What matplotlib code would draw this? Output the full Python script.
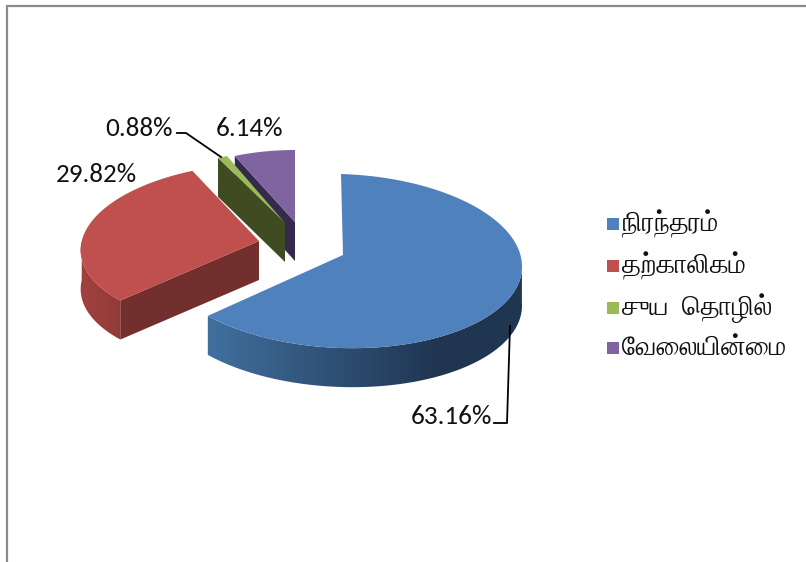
import numpy as np
import matplotlib
matplotlib.use('Agg')
import matplotlib.pyplot as plt
from matplotlib.patches import Polygon, Rectangle
from matplotlib.colors import LinearSegmentedColormap

labels = ['நிரந்தரம்', 'தற்காலிகம்', 'சுய  தொழில்', 'வேலையின்மை']
values = [63.16, 29.82, 0.88, 6.14]
value_labels = ['63.16%', '29.82%', '0.88%', '6.14%']
colors = ['#4F81BD', '#C0504D', '#9BBB59', '#8064A2']
face_colors = ['#1F3550', '#722F2D', '#404B22', '#352A4C']

# where each exploded slice sits, in image pixels: apex x/y, arc centre x/y, rx, ry, skew, tilt
geom = {
    0: (343, 255, 341, 261, 181, 87, 0, 5.5),
    1: (259, 241, 258, 245, 177, 82, 11, 0),
    2: (285, 223, 294, 232, 178, 82, 0, 0),
    3: (295, 222, 295, 231, 160, 81, 0, 0),
}
depth = 39
# side wall gradient per slice: (x start, x end, colour start, colour end)
wall = {
    0: (206, 440, '#41709F', '#1F3550'),
    1: (82, 200, '#A0413E', '#722F2D'),
}

# matplotlib does no text shaping, so Tamil vowel signs that sit left of their
# consonant have to come first in the string it is given
SPLIT = {'\u0bca': '\u0bc6\u0bbe', '\u0bcb': '\u0bc7\u0bbe', '\u0bcc': '\u0bc6\u0bd7'}
LEFT_SIGNS = '\u0bc6\u0bc7\u0bc8'


def visual_order(s):
    for k, v in SPLIT.items():
        s = s.replace(k, v)
    out = list(s)
    for n in range(1, len(out)):
        if out[n] in LEFT_SIGNS:
            out[n - 1], out[n] = out[n], out[n - 1]
    return ''.join(out)


fig = plt.figure(figsize=(8.06, 5.62), dpi=100)
ax = fig.add_axes([0, 0, 1, 1])
ax.set_axis_off()

# frame of the original chart area
ax.plot([6.5, 6.5, 806], [562, 5.5, 5.5], color='#8C8C8C', lw=1.6, solid_joinstyle='miter')

angles = np.cumsum([0] + values) / sum(values) * 2 * np.pi


def arc(i, t):
    ax0, ay0, cx, cy, rx, ry, k, m = geom[i]
    return np.c_[cx + rx * np.sin(t) + k * np.cos(t), cy - ry * np.cos(t) + m * np.sin(t)]


# back slices first so the near ones overlap them
for i in [3, 2, 1, 0]:
    ax0, ay0 = geom[i][:2]
    t0, t1 = angles[i], angles[i + 1]
    t = np.linspace(t0, t1, 200)
    pts = arc(i, t)

    # curved outer wall, lower half only
    tw = t[np.cos(t) < 0.05]
    if len(tw) > 1 and i in wall:
        top = arc(i, tw)
        poly = np.vstack([top, top[::-1] + [0, depth]])
        patch = Polygon(poly, closed=True, fc='none', ec='none')
        ax.add_patch(patch)
        x0, x1, c0, c1 = wall[i]
        cmap = LinearSegmentedColormap.from_list('w', [c0, c1])
        grad = np.clip((np.arange(806) - x0) / (x1 - x0), 0, 1)[None, :]
        im = ax.imshow(grad, cmap=cmap, extent=[0, 806, 562, 0], aspect='auto', vmin=0, vmax=1)
        im.set_clip_path(patch)

    # flat cut face, seen only when it turns towards the viewer
    if np.sin(t0) < -1e-6:
        p = arc(i, np.array([t0]))[0]
        ax.add_patch(Polygon([[ax0, ay0], p, p + [0, depth], [ax0, ay0 + depth]], closed=True,
                             fc=face_colors[i], ec='none', zorder=2))

    ax.add_patch(Polygon(np.vstack([[ax0, ay0], pts]), closed=True, fc=colors[i], ec='none', zorder=3))

label_font = ['Carlito', 'DejaVu Sans']
label_pos = [(411, 416), (56, 174), (105, 128), (216, 128)]
for lab, (x, y) in zip(value_labels, label_pos):
    ax.text(x, y, lab, fontsize=19.5, family=label_font, va='center', ha='left', color='#111111')

# leader lines
ax.plot([494, 507, 510], [423, 423, 326], color='black', lw=1.3, zorder=4)
ax.plot([177, 186, 221], [133, 133, 157], color='black', lw=1.3, zorder=4)

# legend
legend_y = [224, 266, 308, 348]
for c, lab, y in zip(colors, labels, legend_y):
    ax.add_patch(Rectangle((607, y - 6), 12, 12, fc=c, ec='none'))
    ax.text(622, y, visual_order(lab), fontsize=19.5, family=['FreeSerif', 'DejaVu Sans'], va='center', ha='left', color='#111111')

ax.set_xlim(0, 806)
ax.set_ylim(562, 0)
fig.savefig('out.png', dpi=100)
